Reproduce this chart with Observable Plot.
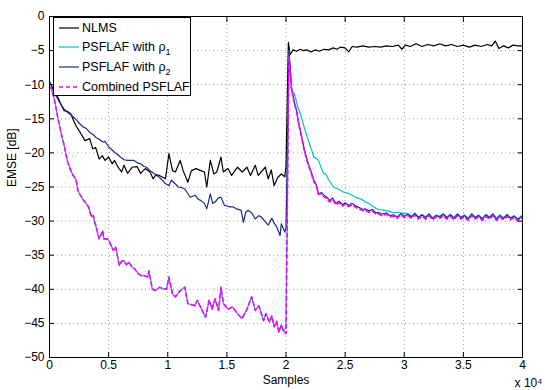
<!DOCTYPE html>
<html>
<head>
<meta charset="utf-8">
<script src="https://cdn.jsdelivr.net/npm/d3@7"></script>
<script src="https://cdn.jsdelivr.net/npm/@observablehq/plot@0.6"></script>
<style>
  body { margin: 0; background: #fff; font-family: "Liberation Sans", Arial, Helvetica, sans-serif; }
  #wrap { position: relative; width: 545px; height: 390px; }
  #legend { position: absolute; left: 53px; top: 17px; width: 138px; height: 79px; border: 1px solid #000; background: #fff; box-sizing: border-box; font-size: 12.5px; }
  .row { position: absolute; left: 4px; display: flex; align-items: center; white-space: nowrap; }
  .row svg { margin-right: 2px; }
  sub { font-size: 9px; vertical-align: -4px; line-height: 0; }
</style>
</head>
<body>
<div id="wrap"></div>
<script>
// x values in units of 10^4 samples, y in dB
const xTicks = [0, 0.5, 1, 1.5, 2, 2.5, 3, 3.5, 4];
const yTicks = [-50, -45, -40, -35, -30, -25, -20, -15, -10, -5, 0];

const nlmsX = [0,0.016,0.04,0.07,0.1,0.124,0.15,0.18,0.21,0.23,0.26,0.3,0.34,0.366,0.39,0.42,0.446,0.47,0.5,0.53,0.55,0.58,0.61,0.63,0.66,0.7,0.74,0.77,0.81,0.85,0.876,0.9,0.93,0.96,0.98,1.01,1.04,1.065,1.105,1.13,1.17,1.2,1.24,1.28,1.31,1.33,1.36,1.39,1.415,1.45,1.47,1.51,1.54,1.59,1.63,1.67,1.7,1.74,1.765,1.79,1.825,1.85,1.875,1.9,1.93,1.96,1.99,2.0,2.02,2.035,2.06,2.09,2.12,2.15,2.18,2.21,2.25,2.28,2.32,2.36,2.4,2.43,2.46,2.5,2.53,2.56,2.6,2.65,2.7,2.75,2.8,2.85,2.9,2.95,2.98,3.01,3.05,3.1,3.15,3.2,3.25,3.3,3.35,3.4,3.45,3.5,3.55,3.6,3.65,3.7,3.74,3.77,3.8,3.84,3.88,3.92,3.96,4.0];
const nlmsY = [-9.8,-10.1,-11,-11.8,-13,-13.8,-13.9,-14.3,-15.5,-16.2,-17,-18.2,-17.9,-19.4,-19.2,-20.9,-20.4,-21.1,-20.6,-21.6,-21.1,-22.1,-22.8,-21.8,-23,-22.1,-22,-23,-22.3,-22.8,-23.8,-23.2,-23.3,-23.6,-23.8,-20.1,-22.6,-22.8,-21.1,-22.6,-24.3,-22.6,-22.3,-22.6,-22.8,-25,-21.1,-23.1,-22.8,-20.6,-22.8,-22.3,-23.3,-22.1,-22.8,-22.1,-23.3,-21.8,-23.3,-22.8,-22.1,-23.8,-22.5,-24.8,-23.6,-23.1,-23.5,-22,-3.8,-5.6,-4.9,-5.1,-4.8,-5.0,-4.9,-5.2,-4.9,-5.1,-4.8,-4.9,-4.6,-4.8,-4.5,-4.6,-5.2,-4.4,-4.5,-4.3,-4.5,-4.4,-4.5,-4.3,-4.4,-4.2,-4.8,-4.2,-4.4,-4.0,-4.4,-4.1,-4.3,-4.0,-4.3,-4.1,-4.4,-4.2,-4.5,-4.2,-4.4,-4.1,-4.3,-3.6,-4.7,-4.3,-4.6,-4.2,-4.3,-4.3];

const rho1X = [0,0.016,0.043,0.07,0.097,0.124,0.15,0.18,0.2,0.225,0.24,0.26,0.29,0.3,0.33,0.356,0.37,0.38,0.395,0.42,0.45,0.46,0.49,0.51,0.54,0.56,0.59,0.61,0.63,0.65,0.67,0.7,0.72,0.75,0.775,0.8,0.83,0.84,0.87,0.9,0.93,0.96,0.99,1.01,1.04,1.065,1.105,1.145,1.17,1.23,1.25,1.29,1.32,1.35,1.375,1.4,1.43,1.45,1.47,1.51,1.55,1.59,1.63,1.67,1.71,1.74,1.77,1.81,1.83,1.86,1.88,1.9,1.92,1.94,1.96,1.98,2.0,2.025,2.05,2.07,2.1,2.13,2.155,2.18,2.21,2.235,2.255,2.275,2.3,2.32,2.34,2.36,2.4,2.44,2.48,2.52,2.56,2.6,2.64,2.67,2.7,2.74,2.78,2.82,2.86,2.91,2.95,3.0,3.03,3.06,3.09,3.12,3.15,3.18,3.21,3.24,3.27,3.3,3.33,3.36,3.39,3.42,3.45,3.48,3.51,3.54,3.57,3.6,3.63,3.66,3.69,3.72,3.75,3.78,3.81,3.84,3.87,3.9,3.93,3.96,4.0];
const rho1Y = [-10.3,-10.6,-12.3,-14.8,-17,-18.9,-21.1,-22.6,-23.3,-24,-25.5,-26.2,-27,-27.2,-27.9,-29.4,-29.2,-29.9,-30.9,-32.6,-31.4,-32.6,-32.6,-33.1,-34.3,-33.8,-36.5,-35.9,-35.8,-36.4,-36,-36.8,-37,-37.7,-38,-38,-38.2,-37.3,-40,-40.2,-39.7,-39.9,-40,-38.2,-40.7,-41.1,-40.2,-39.7,-42.1,-42.4,-41.6,-43.1,-44.1,-41.6,-42.9,-41.4,-43.1,-39.7,-42.1,-42.9,-42.6,-43.6,-44.3,-42.9,-41.1,-43.1,-42.4,-44.6,-43.6,-44.8,-43.9,-45.5,-44.7,-46.3,-45.2,-46.2,-45.5,-5.0,-10.9,-11.3,-13.2,-14.8,-16.3,-17.7,-19.2,-20.6,-20.8,-21.1,-22.3,-23,-23.2,-23.9,-25,-25.3,-25.7,-25.9,-26.2,-26.6,-26.8,-27.2,-27.4,-27.9,-28.3,-28.4,-28.5,-28.8,-28.7,-28.9,-28.9,-29.3,-28.8,-29.4,-29.0,-29.4,-28.9,-29.5,-29.1,-29.3,-28.9,-29.4,-29.0,-29.5,-28.9,-29.4,-29.1,-29.6,-28.9,-29.4,-29.1,-29.6,-29.0,-29.4,-28.9,-29.6,-29.1,-29.5,-29.0,-29.5,-29.2,-29.7,-29.1];

const rho2X = [0,0.016,0.04,0.07,0.1,0.12,0.15,0.18,0.23,0.26,0.285,0.31,0.34,0.37,0.39,0.42,0.45,0.47,0.5,0.55,0.58,0.6,0.63,0.66,0.715,0.75,0.77,0.8,0.82,0.85,0.876,0.93,0.96,0.98,1.01,1.03,1.05,1.09,1.12,1.145,1.19,1.23,1.26,1.28,1.31,1.33,1.36,1.38,1.4,1.43,1.45,1.48,1.52,1.55,1.58,1.62,1.64,1.66,1.68,1.71,1.74,1.77,1.79,1.82,1.85,1.88,1.9,1.92,1.95,1.96,1.99,2.0,2.025,2.046,2.07,2.09,2.11,2.13,2.155,2.18,2.21,2.235,2.255,2.275,2.3,2.32,2.345,2.37,2.395,2.42,2.45,2.48,2.5,2.53,2.56,2.59,2.62,2.65,2.67,2.7,2.73,2.76,2.78,2.81,2.85,2.88,2.91,2.94,2.97,3.0,3.03,3.06,3.09,3.12,3.15,3.18,3.21,3.24,3.27,3.3,3.33,3.36,3.39,3.42,3.45,3.48,3.51,3.54,3.57,3.6,3.63,3.66,3.69,3.72,3.75,3.78,3.81,3.84,3.87,3.9,3.93,3.96,4.0];
const rho2Y = [-9.5,-10.1,-11.2,-12.1,-13,-13.5,-14,-14.4,-15.2,-15.8,-16.2,-16.4,-17,-17.3,-17.7,-18,-18.4,-18.3,-19.1,-19.9,-20.3,-20.6,-21,-21.1,-21.1,-21.5,-21.6,-22,-22.1,-22.6,-22.9,-23.6,-24.1,-24.5,-24.8,-24,-24.3,-25,-25.1,-25.3,-26.5,-26.2,-26.8,-27,-27.4,-28.2,-26,-27.4,-27.2,-26.6,-26.5,-27.7,-27.9,-27.9,-28.2,-28.4,-30.2,-28.7,-28.4,-28.8,-29.7,-29.2,-29.4,-30,-30.6,-29.6,-30.3,-30.8,-32.1,-30.4,-31.6,-31,-5.0,-10.4,-12.5,-13.8,-15.8,-17.4,-19.5,-21.1,-22.6,-24,-24.6,-26,-25.8,-26.2,-26.5,-27,-26.6,-27.4,-27.1,-27.6,-27.3,-27.7,-27.4,-27.8,-28,-28.3,-28.2,-28.5,-28.3,-28.8,-28.7,-29,-28.8,-29.2,-29.1,-29.4,-28.9,-29.3,-29,-29.4,-28.9,-29.5,-29.1,-29.5,-29,-29.6,-29.2,-29.4,-29,-29.5,-29.1,-29.6,-29,-29.5,-29.2,-29.7,-29,-29.5,-29.2,-29.7,-29.1,-29.5,-29,-29.7,-29.2,-29.6,-29.1,-29.6,-29.3,-29.8,-29.2];

const combX = [0,0.016,0.043,0.07,0.097,0.124,0.15,0.18,0.2,0.225,0.24,0.26,0.29,0.3,0.33,0.356,0.37,0.38,0.395,0.42,0.45,0.46,0.49,0.51,0.54,0.56,0.59,0.61,0.63,0.65,0.67,0.7,0.72,0.75,0.775,0.8,0.83,0.84,0.87,0.9,0.93,0.96,0.99,1.01,1.04,1.065,1.105,1.145,1.17,1.23,1.25,1.29,1.32,1.35,1.375,1.4,1.43,1.45,1.47,1.51,1.55,1.59,1.63,1.67,1.71,1.74,1.77,1.81,1.83,1.86,1.88,1.9,1.92,1.94,1.96,1.98,2.0,2.025,2.046,2.07,2.09,2.11,2.13,2.155,2.18,2.21,2.235,2.255,2.275,2.3,2.32,2.345,2.37,2.395,2.42,2.45,2.48,2.5,2.53,2.56,2.59,2.62,2.65,2.67,2.7,2.73,2.76,2.78,2.81,2.85,2.88,2.91,2.94,2.97,3.0,3.03,3.06,3.09,3.12,3.15,3.18,3.21,3.24,3.27,3.3,3.33,3.36,3.39,3.42,3.45,3.48,3.51,3.54,3.57,3.6,3.63,3.66,3.69,3.72,3.75,3.78,3.81,3.84,3.87,3.9,3.93,3.96,4.0];
const combY = [-10.3,-10.6,-12.3,-14.8,-17,-18.9,-21.1,-22.6,-23.3,-24,-25.5,-26.2,-27,-27.2,-27.9,-29.4,-29.2,-29.9,-30.9,-32.6,-31.4,-32.6,-32.6,-33.1,-34.3,-33.8,-36.5,-35.9,-35.8,-36.4,-36,-36.8,-37,-37.7,-38,-38,-38.2,-37.3,-40,-40.2,-39.7,-39.9,-40,-38.2,-40.7,-41.1,-40.2,-39.7,-42.1,-42.4,-41.6,-43.1,-44.1,-41.6,-42.9,-41.4,-43.1,-39.7,-42.1,-42.9,-42.6,-43.6,-44.3,-42.9,-41.1,-43.1,-42.4,-44.6,-43.6,-44.8,-43.9,-45.5,-44.7,-46.3,-45.2,-46.2,-46.5,-5.8,-10.6,-12.7,-14,-16,-17.6,-19.7,-21.3,-22.8,-24.2,-24.8,-26.1,-26,-26.4,-26.7,-27.2,-26.8,-27.6,-27.3,-27.8,-27.5,-27.9,-27.6,-28,-28.2,-28.5,-28.4,-28.7,-28.5,-29,-28.9,-29.2,-29,-29.4,-29.3,-29.6,-29.1,-29.5,-29.2,-29.6,-29.1,-29.7,-29.3,-29.7,-29.2,-29.8,-29.4,-29.6,-29.2,-29.7,-29.3,-29.8,-29.2,-29.7,-29.4,-29.9,-29.2,-29.7,-29.4,-29.9,-29.3,-29.7,-29.2,-29.9,-29.4,-29.8,-29.3,-29.8,-29.5,-30,-29.4];

const colors = { nlms: "#000000", rho1: "#00c0c0", rho2: "#1a2d8c", comb: "#ff00ff" };
const fmt = d => d < 0 ? "\u2212" + (-d) : String(d);
const line = (xs, ys, opts) => Plot.line(xs.map((x, i) => ({x, y: ys[i]})), {x: "x", y: "y", ...opts});

const chart = Plot.plot({
  width: 545, height: 390,
  marginLeft: 49, marginRight: 23, marginTop: 16, marginBottom: 33,
  style: { fontFamily: '"Liberation Sans", Arial, Helvetica, sans-serif', fontSize: "12px", color: "#000", background: "#fff" },
  x: { domain: [0, 4], label: null },
  y: { domain: [-50, 0], label: null },
  marks: [
    Plot.gridX(xTicks, { stroke: "#9a9a9a", strokeOpacity: 1, strokeDasharray: "1,3" }),
    Plot.gridY(yTicks, { stroke: "#9a9a9a", strokeOpacity: 1, strokeDasharray: "1,3" }),
    line(nlmsX, nlmsY, { stroke: colors.nlms, strokeWidth: 1.2 }),
    line(rho1X, rho1Y, { stroke: colors.rho1, strokeWidth: 1.2 }),
    line(rho2X, rho2Y, { stroke: colors.rho2, strokeWidth: 1.2 }),
    line(combX, combY, { stroke: colors.comb, strokeWidth: 1.6, strokeDasharray: "4,3" }),
    Plot.frame({ stroke: "#000" }),
    Plot.axisX(xTicks, { anchor: "bottom", tickSize: -5, tickPadding: 8, tickFormat: d => String(d), label: null }),
    Plot.axisX(xTicks, { anchor: "top", tickSize: -5, tickFormat: () => "", label: null }),
    Plot.axisY(yTicks, { anchor: "left", tickSize: -5, tickPadding: 10, tickFormat: fmt, label: null }),
    Plot.axisY(yTicks, { anchor: "right", tickSize: -5, tickFormat: () => "", label: null }),
    Plot.text(["Samples"], { frameAnchor: "bottom", dy: 26, fontSize: 12 }),
    Plot.text(["x 10\u2074"], { frameAnchor: "bottom-right", dy: 29, dx: 6, textAnchor: "middle", fontSize: 12 }),
    Plot.text(["EMSE [dB]"], { frameAnchor: "left", dx: -37, rotate: -90, fontSize: 12 })
  ]
});

const wrap = document.getElementById("wrap");
wrap.appendChild(chart);

const entries = [
  { label: "NLMS", color: colors.nlms, dash: null, top: 3 },
  { label: "PSFLAF with \u03c1<sub>1</sub>", color: colors.rho1, dash: null, top: 22 },
  { label: "PSFLAF with \u03c1<sub>2</sub>", color: colors.rho2, dash: null, top: 42 },
  { label: "Combined PSFLAF", color: colors.comb, dash: "4,3", top: 62 }
];
const legend = document.createElement("div");
legend.id = "legend";
for (const e of entries) {
  const row = document.createElement("div");
  row.className = "row";
  row.style.top = e.top + "px";
  row.innerHTML = `<svg width="22" height="10"><line x1="1" y1="5" x2="21" y2="5" stroke="${e.color}" stroke-width="${e.dash ? 1.6 : 1.2}" ${e.dash ? `stroke-dasharray="${e.dash}"` : ""}/></svg><span>${e.label}</span>`;
  legend.appendChild(row);
}
wrap.appendChild(legend);
</script>
</body>
</html>
